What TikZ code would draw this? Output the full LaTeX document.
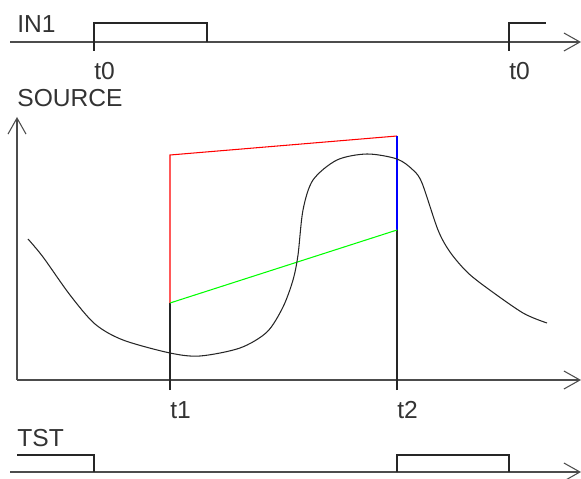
\documentclass[tikz,border=0pt]{standalone}
\usepackage{fontspec}
\setmainfont{Liberation Sans}
\usepackage{tikz}
\usetikzlibrary{arrows.meta}
\tikzset{
  axisline/.style={draw=black!70,line width=0.9pt,-{Straight Barb[length=0.32cm,width=0.36cm,line width=0.6pt]}},
  sig/.style={black!85,line width=0.6pt},
  lbl/.style={anchor=base west,inner sep=0pt,text=black!80,font=\fontsize{14}{14}\selectfont},
}

\begin{document}
\begin{tikzpicture}[x=0.02cm,y=-0.02cm]
  \useasboundingbox (0,0) rectangle (581,479);
  % IN1 trace
  \coordinate (inA) at (10,42); \coordinate (inB) at (581,42);
  \draw[axisline] (inA) -- (inB);
  \draw[sig] (94,51) -- (94,23) -- (207,23) -- (207,42);
  \draw[sig] (509,51) -- (509,23) -- (546,23);
  \node[lbl] (in1) at (17,33) {IN1};
  \node[lbl] (t0a) at (94,80) {t0};
  \node[lbl] (t0b) at (509,80) {t0};
  % SOURCE axes
  \coordinate (org) at (17,380);
  \coordinate (xend) at (581,380); \coordinate (yend) at (17,117);
  \draw[axisline] (org) -- (xend);
  \draw[axisline] (org) -- (yend);
  \node[lbl] (src) at (17,107) {SOURCE};
  \foreach \x/\n in {170/t1,397/t2}
     {\draw[sig] (\x,390) -- (\x,380);
      \node[lbl] (\n) at (\x,418) {\n};}
  \draw[sig] (170,380) -- (170,303);
  \draw[sig] (397,380) -- (397,230);
  \draw[red,line width=0.6pt] (170,303) -- (170,155) -- (397,136);
  \draw[blue,line width=0.6pt] (397,136) -- (397,230);
  \draw[green,line width=0.6pt] (170,303) -- (397,230);
  \draw[sig,smooth,tension=0.5] plot coordinates {(28,239) (43,257) (70,295)
     (95,324) (123,340) (170,353) (200,356) (240,348) (267,332) (283,307) (293,280) (298,255)
     (303,210) (313,180) (337,160) (367,154) (397,159) (413,170) (422,183) (438,230)
     (450,252) (467,272) (487,288) (523,313) (547,323)};
  % TST trace
  \coordinate (tsA) at (10,472); \coordinate (tsB) at (581,472);
  \draw[axisline] (tsA) -- (tsB);
  \draw[sig] (17,455) -- (94,455) -- (94,472);
  \draw[sig] (397,472) -- (397,455) -- (509,455) -- (509,472);
  \node[lbl] (tst) at (17,446) {TST};
\end{tikzpicture}
\end{document}
